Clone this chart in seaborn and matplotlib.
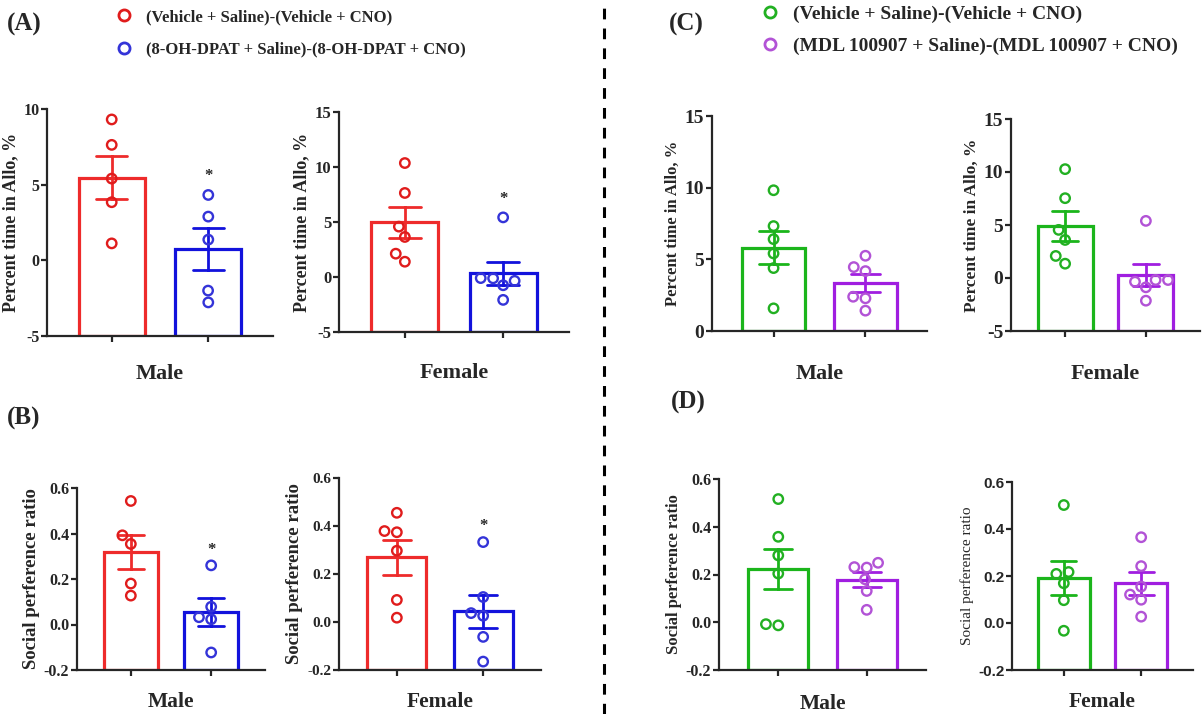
import matplotlib
matplotlib.use("Agg")
import matplotlib.pyplot as plt
from matplotlib.lines import Line2D
import seaborn as sns
import pandas as pd

# ---- data ----
groups_ab = ["(Vehicle + Saline)-(Vehicle + CNO)", "(8-OH-DPAT + Saline)-(8-OH-DPAT + CNO)"]
groups_cd = ["(Vehicle + Saline)-(Vehicle + CNO)", "(MDL 100907 + Saline)-(MDL 100907 + CNO)"]

a_male_veh = [9.31, 7.63, 5.40, 3.84, 1.12]
a_male_dpat = [4.32, 2.89, 1.37, -2.00, -2.78]
a_female_veh = [10.36, 7.64, 4.58, 3.64, 2.12, 1.39]
a_female_dpat = [5.42, -0.12, -0.35, -0.10, -0.75, -2.08]

b_male_veh = [0.543, 0.392, 0.354, 0.180, 0.127]
b_male_dpat = [0.260, 0.078, 0.032, 0.023, -0.123]
b_female_veh = [0.455, 0.379, 0.374, 0.297, 0.092, 0.018]
b_female_dpat = [0.333, 0.104, 0.026, 0.037, -0.062, -0.165]

c_male_veh = [9.82, 7.32, 6.41, 5.41, 4.39, 1.58]
c_male_mdl = [5.25, 4.46, 4.18, 2.39, 2.28, 1.42]
c_female_veh = [10.27, 7.53, 4.54, 3.59, 2.08, 1.35]
c_female_mdl = [5.39, -0.19, -0.35, -0.19, -0.88, -2.14]

d_male_veh = [0.516, 0.358, 0.280, 0.204, -0.013, -0.008]
d_male_mdl = [0.249, 0.229, 0.231, 0.180, 0.131, 0.052]
d_female_veh = [0.502, 0.217, 0.209, 0.169, 0.097, -0.033]
d_female_mdl = [0.365, 0.242, 0.155, 0.121, 0.099, 0.027]

pct_ticks_a_male = [-5, 0, 5, 10]
pct_ticks = [-5, 0, 5, 10, 15]
pct_ticks_c_male = [0, 5, 10, 15]
ratio_ticks = [-0.2, 0.0, 0.2, 0.4, 0.6]

bar_red, bar_blue = "#ee2b2b", "#1212dc"
pt_red, pt_blue = "#e01c1c", "#3434d8"
bar_green, bar_purple = "#1bb51b", "#a01ee0"
pt_green, pt_purple = "#22b022", "#b253d6"

W, H = 1203, 714
sns.set_style("ticks")
plt.rcParams["font.family"] = ["Liberation Serif", "DejaVu Serif"]
plt.rcParams["font.weight"] = "bold"
plt.rcParams["axes.labelweight"] = "bold"
plt.rcParams["axes.unicode_minus"] = False

fig = plt.figure(figsize=(W / 100, H / 100), dpi=100)


def px_rect(l, r, t, b):
    return [l / W, 1 - b / H, (r - l) / W, (b - t) / H]


def panel(box, ctrl, drug, names, bar_cols, pt_cols, ylim, ticks, fmt,
          ylabel, ylab_size, xlabel, tick_size, star=False,
          ylab_weight="bold", tick_family=None, xpad=14, xsize=16):
    ax = fig.add_axes(px_rect(*box))
    df = pd.DataFrame({"group": [names[0]] * len(ctrl) + [names[1]] * len(drug),
                       "value": ctrl + drug})
    sns.barplot(data=df, x="group", y="value", hue="group", order=names,
                hue_order=names, palette=dict(zip(names, bar_cols)), fill=False,
                errorbar="se", capsize=0.32, width=0.68, linewidth=2.3,
                err_kws={"linewidth": 2.0}, legend=False, ax=ax)
    # GraphPad style: bars start at the bottom of the axis
    for bar in ax.patches:
        h = bar.get_height()
        bar.set_y(ylim[0])
        bar.set_height(h - ylim[0])
    n_before = len(ax.collections)
    sns.swarmplot(data=df, x="group", y="value", hue="group", order=names,
                  hue_order=names, palette=dict(zip(names, pt_cols)), size=6.8,
                  linewidth=1.7, legend=False, ax=ax)
    for coll in ax.collections[n_before:]:
        fc = coll.get_facecolors()
        coll.set_edgecolors(fc)
        coll.set_facecolors("none")
        coll.set_zorder(4)

    ax.set_xlim(-0.67, 1.67)
    ax.set_ylim(*ylim)
    ax.set_yticks(ticks)
    ax.set_yticklabels([fmt.format(t) for t in ticks])
    sns.despine(ax=ax)
    for sp in ("left", "bottom"):
        ax.spines[sp].set_linewidth(1.6)
    ax.tick_params(axis="both", length=4, width=1.6, pad=1.5)
    ax.tick_params(axis="x", labelbottom=False)
    for lab in ax.get_yticklabels():
        lab.set_fontsize(tick_size)
        lab.set_fontweight("bold")
        if tick_family:
            lab.set_family(tick_family)
    ax.set_ylabel(ylabel, fontsize=ylab_size, fontweight=ylab_weight, labelpad=3)
    ax.set_xlabel(xlabel, fontsize=xsize, fontweight="bold", labelpad=xpad)
    if star:
        ax.text(1, max(drug) + 0.085 * (ylim[1] - ylim[0]), "*", ha="center",
                va="center", fontsize=12, fontweight="bold")
    return ax


pct_label = "Percent time in Allo, %"
ratio_label = "Social perference ratio"

panel((47, 273, 109, 336), a_male_veh, a_male_dpat, groups_ab, (bar_red, bar_blue),
      (pt_red, pt_blue), (-5, 10), pct_ticks_a_male, "{:d}", pct_label, 13,
      "Male", 11.5, star=True, xpad=16)
panel((339, 569, 112, 332), a_female_veh, a_female_dpat, groups_ab, (bar_red, bar_blue),
      (pt_red, pt_blue), (-5, 15), pct_ticks, "{:d}", pct_label, 13,
      "Female", 12, star=True, xpad=18)
panel((77, 265, 488, 670), b_male_veh, b_male_dpat, groups_ab, (bar_red, bar_blue),
      (pt_red, pt_blue), (-0.2, 0.6), ratio_ticks, "{:.1f}", ratio_label, 13.5,
      "Male", 11.5, star=True, xpad=12, xsize=15.5)
panel((339, 541, 478, 670), b_female_veh, b_female_dpat, groups_ab, (bar_red, bar_blue),
      (pt_red, pt_blue), (-0.2, 0.6), ratio_ticks, "{:.1f}", ratio_label, 13.5,
      "Female", 11, star=True, xpad=12, xsize=15.5)

panel((712, 927, 116, 331), c_male_veh, c_male_mdl, groups_cd, (bar_green, bar_purple),
      (pt_green, pt_purple), (0, 15), pct_ticks_c_male, "{:d}", pct_label, 12,
      "Male", 14, xpad=20)
panel((1011, 1200, 119, 331), c_female_veh, c_female_mdl, groups_cd, (bar_green, bar_purple),
      (pt_green, pt_purple), (-5, 15), pct_ticks, "{:d}", pct_label, 12.5,
      "Female", 14, xpad=20)
panel((719, 926, 479, 670), d_male_veh, d_male_mdl, groups_cd, (bar_green, bar_purple),
      (pt_green, pt_purple), (-0.2, 0.6), ratio_ticks, "{:.1f}", ratio_label, 12,
      "Male", 11.5, xpad=13, xsize=15.5)
panel((1012, 1193, 482, 670), d_female_veh, d_female_mdl, groups_cd, (bar_green, bar_purple),
      (pt_green, pt_purple), (-0.2, 0.6), ratio_ticks, "{:.1f}", ratio_label, 11,
      "Female", 11, ylab_weight="normal", tick_family="Liberation Sans", xpad=12,
      xsize=15.5)

# panel letters
for letter, (x, y) in {"(A)": (24, 24), "(B)": (24, 418),
                       "(C)": (686, 24), "(D)": (688, 402)}.items():
    fig.text(x / W, 1 - y / H, letter, ha="center", va="center", fontsize=18,
             fontweight="bold")

# legends
def legend_handles(cols):
    return [Line2D([], [], ls="none", marker="o", markersize=8, markerfacecolor="none",
                   markeredgecolor=c, markeredgewidth=2) for c in cols]

fig.legend(legend_handles((pt_red, pt_blue)), groups_ab, loc="upper left",
           bbox_to_anchor=(116 / W, 1 - 9 / H), frameon=False, fontsize=12,
           handlelength=1.0, handletextpad=0.8, labelspacing=1.0,
           borderpad=0, borderaxespad=0)
fig.legend(legend_handles((pt_green, pt_purple)), groups_cd, loc="upper left",
           bbox_to_anchor=(760 / W, 1 - 5 / H), frameon=False, fontsize=14,
           handlelength=1.0, handletextpad=0.7, labelspacing=0.75,
           borderpad=0, borderaxespad=0)

# dashed divider
fig.add_artist(Line2D([604 / W, 604 / W], [0, 1], transform=fig.transFigure,
                      color="black", lw=2.2, ls=(0, (3.5, 3))))

fig.savefig("out.png", dpi=100)
